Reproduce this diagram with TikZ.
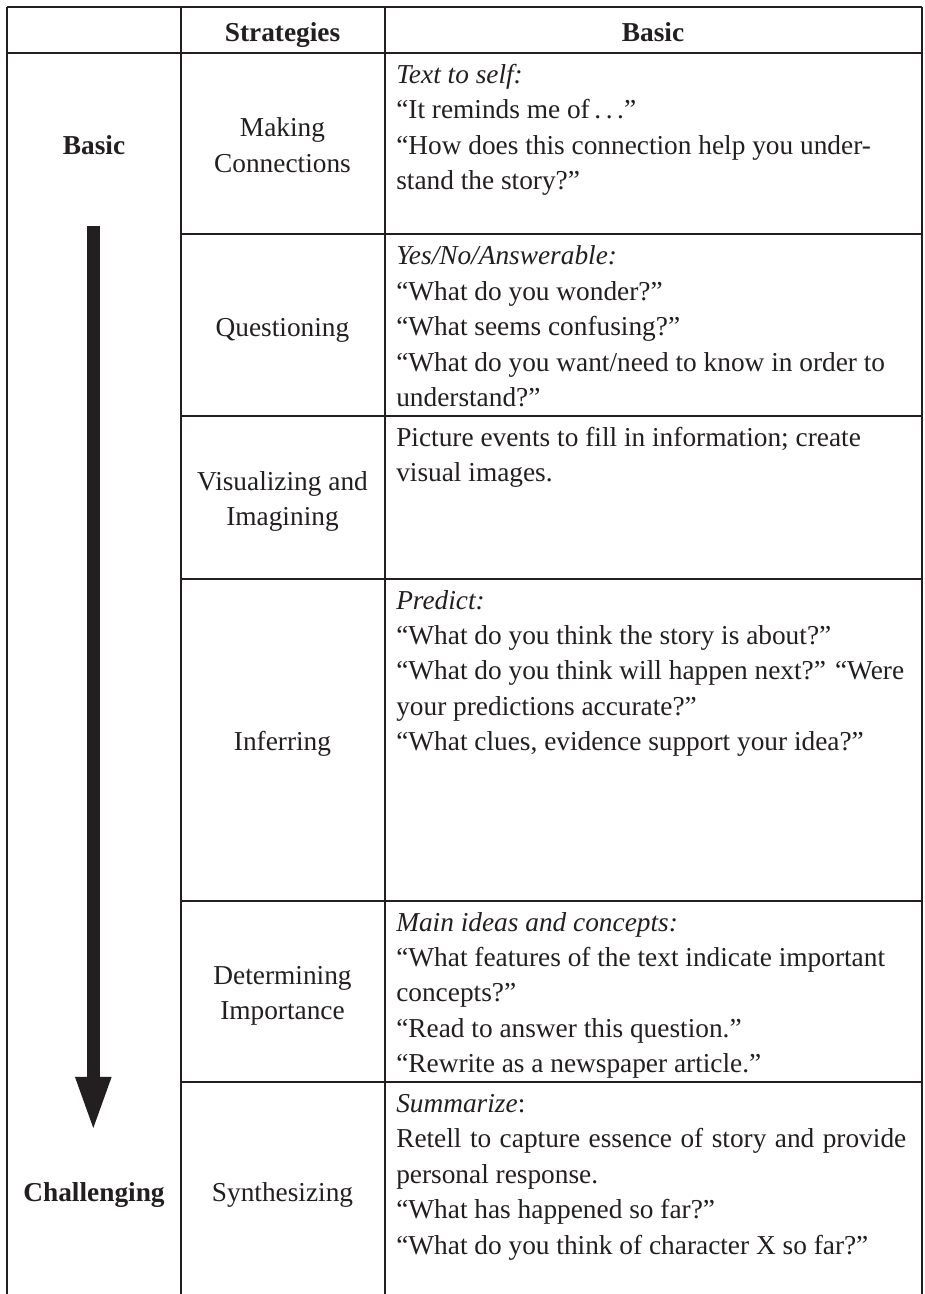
\documentclass[tikz,border=0pt]{standalone}
\usepackage{fontspec}
\setmainfont{Liberation Serif}
\usetikzlibrary{arrows.meta}
\definecolor{ink}{HTML}{231F20}
\begin{document}
\begin{tikzpicture}[x=0.75pt,y=-0.75pt,
  gridline/.style={draw=ink,line width=1.5pt},
  txt/.style={inner sep=0pt,text=ink,font=\fontsize{20.5pt}{26.6pt}\selectfont},
  body/.style={txt,anchor=base west},
  mid/.style={txt,anchor=base},
  hd/.style={txt,anchor=base,font=\fontsize{20.5pt}{26.6pt}\selectfont\bfseries}]
\useasboundingbox[fill=white] (0,0) rectangle (924,1294);

% table rules
\draw[gridline] (7,6.7) -- (921.7,6.7);
\draw[gridline] (7,52.7) -- (921.7,52.7);
\draw[gridline] (7,6.7) -- (7,1294);
\draw[gridline] (181,6.7) -- (181,1294);
\draw[gridline] (384.5,6.7) -- (384.5,1294);
\draw[gridline] (921.7,6.7) -- (921.7,1294);
\foreach \yy in {234.5,416,578.5,900.5,1082}
  \draw[gridline] (181,\yy) -- (921.7,\yy);

% header
\node[hd] (hstrat) at (282.5,41.5) {Strategies};
\node[hd] (hbasic) at (653,41.5) {Basic};

% first column
\node[hd] (lbasic) at (94,155) {Basic};
\node[hd] (lchal) at (94,1201.7) {Challenging};
\coordinate (arrtop) at (93.3,225.7);
\coordinate (arrtip) at (93.3,1128);
\draw[ink,line width=10pt,-{Triangle[length=38.3pt,width=27.5pt,line width=0pt]}] (arrtop) -- (arrtip);

% strategies column
\node[mid] (s1) at (282.5,136.75) {\parbox[t]{150pt}{\centering Making\\Connections}};
\node[mid] (s2) at (282.5,336) {Questioning};
\node[mid] (s3) at (282.5,490.25) {\parbox[t]{150pt}{\centering Visualizing and\\Imagining}};
\node[mid] (s4) at (282.5,750.25) {Inferring};
\node[mid] (s5) at (282.5,984.25) {\parbox[t]{150pt}{\centering Determining\\Importance}};
\node[mid] (s6) at (282.5,1201.7) {Synthesizing};

% basic column
\node[body] (b1) at (396,83.5) {\parbox[t]{405pt}{\raggedright
\textit{Text to self:}\\
“It reminds me of\,.\,.\,.”\\
“How does this connection help you under-\\
stand the story?”}};
\node[body] (b2) at (396,265) {\parbox[t]{405pt}{\raggedright
\textit{Yes/No/Answerable:}\\
“What do you wonder?”\\
“What seems confusing?”\\
“What do you want/need to know in order to\\
understand?”}};
\node[body] (b3) at (396,446.5) {\parbox[t]{405pt}{\raggedright
Picture events to fill in information; create\\
visual images.}};
\node[body] (b4) at (396,609) {\parbox[t]{405pt}{\raggedright
\textit{Predict:}\\
“What do you think the story is about?”\\
“What do you think will happen next?” “Were\\
your predictions accurate?”\\
“What clues, evidence support your idea?”}};
\node[body] (b5) at (396,931) {\parbox[t]{405pt}{\raggedright
\textit{Main ideas and concepts:}\\
“What features of the text indicate important\\
concepts?”\\
“Read to answer this question.”\\
“Rewrite as a newspaper article.”}};
\node[body] (b6) at (396,1112.5) {\parbox[t]{405pt}{\raggedright
\textit{Summarize}:\\
\makebox[382.5pt][s]{Retell to capture essence of story and provide}\\
personal response.\\
“What has happened so far?”\\
“What do you think of character X so far?”}};
\end{tikzpicture}
\end{document}
